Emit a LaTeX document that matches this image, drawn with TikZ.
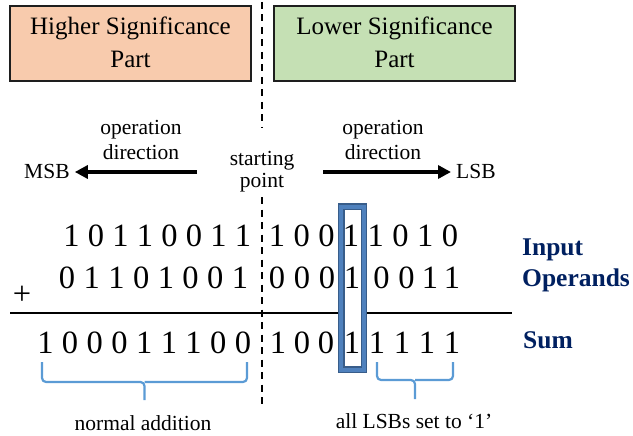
\documentclass[tikz,border=0pt]{standalone}
\usepackage{fontspec}
\setmainfont{Liberation Serif}
\usetikzlibrary{arrows.meta}
\definecolor{peach}{RGB}{248,203,173}
\definecolor{lgreen}{RGB}{197,224,180}
\definecolor{navy}{RGB}{0,32,96}
\definecolor{bluebox}{RGB}{79,129,189}
\definecolor{blueboxdark}{RGB}{56,93,138}
\definecolor{bracecol}{RGB}{91,155,213}
\definecolor{edge}{RGB}{30,30,30}
\tikzset{
  partbox/.style={draw=edge, line width=2pt},
  parttext/.style={anchor=base, align=center, inner sep=0pt, font=\fontsize{25}{33}\selectfont},
  smalltext/.style={anchor=base, align=center, inner sep=0pt, font=\fontsize{21.5}{25}\selectfont},
  digit/.style={anchor=base, inner sep=0pt, font=\fontsize{32.5}{36}\selectfont},
  label/.style={anchor=base west, inner sep=0pt, text=navy, font=\fontsize{25.5}{30}\selectfont\bfseries},
  bigarrow/.style={line width=4pt, -{Triangle[length=13pt,width=13pt]}},
  divider/.style={line width=2.5pt, dash pattern=on 7pt off 5.5pt},
  bracket/.style={draw=bracecol, line width=2.2pt, rounded corners=4pt},
}
\begin{document}
\begin{tikzpicture}[x=1pt,y=-1pt]
\useasboundingbox (0,0) rectangle (633,436);

% part boxes
\draw[partbox, fill=peach] (10.3,6) rectangle (250.7,80.7);
\draw[partbox, fill=lgreen] (274.3,6) rectangle (515,80.7);
\node[parttext] (hsp) at (130.5,68) {Higher Significance\\Part};
\node[parttext] (lsp) at (394.5,68) {Lower Significance\\Part};

% dividing dashed line
\coordinate (d0) at (262,2);
\coordinate (d1) at (262,128);
\coordinate (d2) at (262,197);
\coordinate (d3) at (262,404);
\draw[divider] (d0) -- (d1);
\draw[divider] (d2) -- (d3);

% direction texts
\node[smalltext] (opl) at (141,160) {operation\\direction};
\node[smalltext] (opr) at (383,160) {operation\\direction};
\node[smalltext, font=\fontsize{21.5}{22.5}\selectfont] (sp) at (262,188) {starting\\point};
\node[smalltext, anchor=base west] (msb) at (24,178.5) {MSB};
\node[smalltext, anchor=base west] (lsb) at (456,178.5) {LSB};
\coordinate (la) at (197,172);
\coordinate (ra) at (323,172);
\draw[bigarrow] (la) -- ([xshift=5pt]msb.east |- la);
\draw[bigarrow] (ra) -- ([xshift=-5pt]lsb.west |- ra);

% sum line
\coordinate (s0) at (10,313);
\coordinate (s1) at (512,313);
\draw[line width=2pt] (s0) -- (s1);
\node[inner sep=0pt, font=\fontsize{32.5}{36}\selectfont] (plus) at (22,295) {+};

% white inside of highlight box
\fill[white] (341.3,206.5) rectangle (363.7,369.5);

% operand and sum digits
\foreach \d [count=\i] in {1,0,1,1,0,0,1,1}
  \node[digit] (a\i) at ({243-24.5*(8-\i)},247) {\d};
\foreach \d [count=\i] in {1,0,0,1,1,0,1,0}
  \node[digit] (b\i) at ({277+24.7*(\i-1)},247) {\d};
\foreach \d [count=\i] in {0,1,1,0,1,0,0,1}
  \node[digit] (c\i) at ({240-24.7*(8-\i)},288) {\d};
\foreach \d/\x [count=\i] in {0/277,0/302,0/327,1/352,0/381.5,0/406.5,1/430,1/452}
  \node[digit] (e\i) at (\x,288) {\d};
\foreach \d [count=\i] in {1,0,0,0,1,1,1,0,0}
  \node[digit] (f\i) at ({243-24.7*(9-\i)},353) {\d};
\foreach \d/\x [count=\i] in {1/278,0/302,0/326,1/352,1/377,1/402,1/427,1/452}
  \node[digit] (g\i) at (\x,353) {\d};

% highlight box
\draw[blueboxdark, line width=6.4pt] (341.3,206.5) rectangle (363.7,369.5);
\draw[bluebox, line width=4pt] (341.3,206.5) rectangle (363.7,369.5);

% labels
\node[label] (inp) at (522,255) {Input};
\node[label] (ops) at (522,286) {Operands};
\node[label] (sum) at (523,348) {Sum};

% brackets
\coordinate (bl1) at (42,362);
\coordinate (bl2) at (247,362);
\coordinate (blm) at (144.5,382);
\coordinate (blt) at (144.5,400);
\draw[bracket] (bl1) -- (bl1 |- blm) -- (blm) -- (blt);
\draw[bracket] (bl2) -- (bl2 |- blm) -- (blm);
\coordinate (br1) at (377,362);
\coordinate (br2) at (453,362);
\coordinate (brm) at (415,380);
\coordinate (brt) at (415,399);
\draw[bracket] (br1) -- (br1 |- brm) -- (brm) -- (brt);
\draw[bracket] (br2) -- (br2 |- brm) -- (brm);

\node[smalltext] (norm) at (143,430) {normal addition};
\node[smalltext] (lsbs) at (414,428) {all LSBs set to ‘1’};
\end{tikzpicture}
\end{document}
